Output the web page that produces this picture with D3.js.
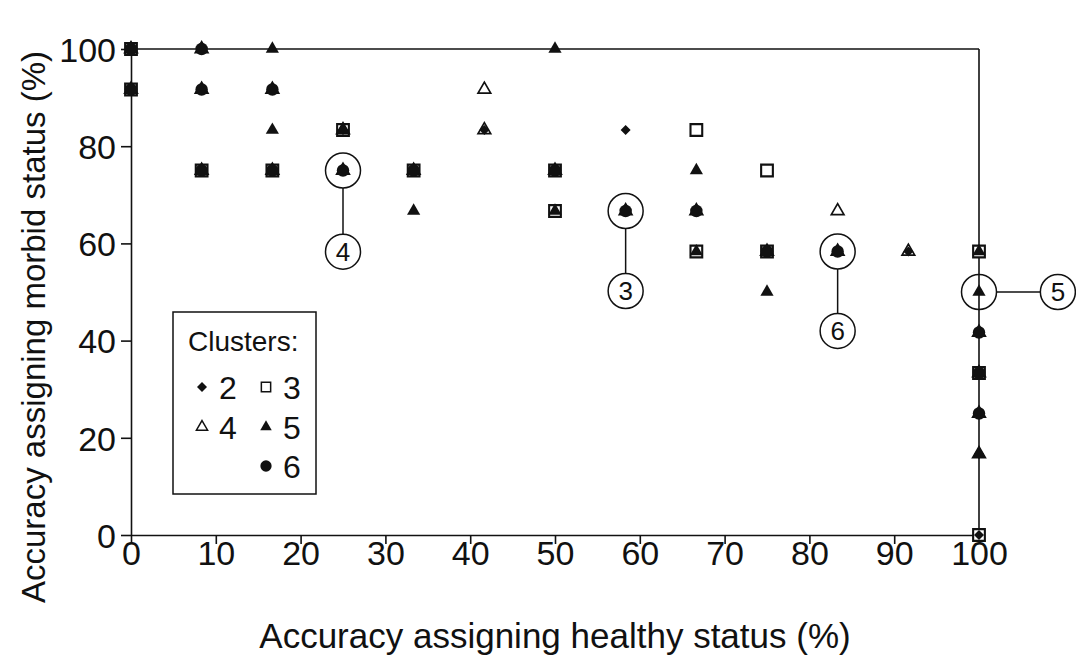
<!DOCTYPE html>
<html><head><meta charset="utf-8">
<script src="https://cdn.jsdelivr.net/npm/d3@7"></script>
<style>body{margin:0;background:#fff}svg{display:block;font-family:"Liberation Sans",Arial,sans-serif}</style>
</head><body><svg id="c" width="1076" height="661"></svg>
<script>
const xTicks = [0,10,20,30,40,50,60,70,80,90,100];
const yTicks = [0,20,40,60,80,100];
const xTitle = "Accuracy assigning healthy status (%)";
const yTitleParts = ["Accuracy assigning morbid status", "(%)"];
const legendTitle = "Clusters:";
const cluster2 = [[0,100],[0,91.67],[8.33,100],[8.33,91.67],[8.33,75],[16.67,91.67],[16.67,75],[25,83.33],[25,75],[33.33,75],[41.67,83.33],[50,75],[58.33,83.33],[58.33,66.67],[66.67,66.67],[75,58.33],[83.33,58.33],[91.67,58.33],[100,41.67],[100,33.33],[100,25],[100,16.67],[100,0]];
const cluster3 = [[0,100],[0,91.67],[8.33,75],[16.67,75],[25,83.33],[33.33,75],[50,75],[50,66.67],[66.67,83.33],[66.67,58.33],[75,75],[75,58.33],[100,58.33],[100,33.33],[100,0]];
const cluster4 = [[0,100],[0,91.67],[8.33,100],[8.33,91.67],[8.33,75],[16.67,91.67],[16.67,75],[25,83.33],[25,75],[33.33,75],[41.67,91.67],[41.67,83.33],[50,75],[58.33,66.67],[66.67,66.67],[75,58.33],[83.33,66.67],[83.33,58.33],[91.67,58.33],[100,41.67],[100,33.33],[100,25],[100,16.67]];
const cluster5 = [[0,100],[0,91.67],[8.33,100],[8.33,91.67],[8.33,75],[16.67,100],[16.67,91.67],[16.67,83.33],[16.67,75],[25,83.33],[25,75],[33.33,75],[33.33,66.67],[50,100],[50,75],[50,66.67],[58.33,66.67],[66.67,75],[66.67,66.67],[66.67,58.33],[75,58.33],[75,50],[83.33,58.33],[100,58.33],[100,50],[100,41.67],[100,33.33],[100,25],[100,16.67]];
const cluster6 = [[0,100],[0,91.67],[8.33,100],[8.33,91.67],[8.33,75],[16.67,91.67],[16.67,75],[25,75],[33.33,75],[50,75],[58.33,66.67],[66.67,66.67],[75,58.33],[83.33,58.33],[100,41.67],[100,33.33],[100,25]];
// callouts: label, circled point, label position (data units)
const calloutLabels = ["4","3","6","5"];
const calloutPoints = [[25,75],[58.33,66.67],[83.33,58.33],[100,50]];
const calloutLabelPos = [[25,58.3],[58.33,50.2],[83.33,42],[109.3,50]];

const svg = d3.select("#c");
const m = {l:131, r:979, t:49, b:535};
const x = d3.scaleLinear().domain([0,100]).range([m.l,m.r]);
const y = d3.scaleLinear().domain([0,100]).range([m.b,m.t]);
const ink = "#111";

// frame
svg.append("line").attr("x1",m.l).attr("x2",m.r).attr("y1",m.t).attr("y2",m.t).attr("stroke",ink).attr("stroke-width",1.6);
svg.append("line").attr("x1",m.r).attr("x2",m.r).attr("y1",m.t).attr("y2",m.b).attr("stroke",ink).attr("stroke-width",1.6);

const xa = svg.append("g").attr("transform",`translate(0,${m.b})`)
  .call(d3.axisBottom(x).tickValues(xTicks).tickSize(9).tickSizeOuter(0));
const ya = svg.append("g").attr("transform",`translate(${m.l},0)`)
  .call(d3.axisLeft(y).tickValues(yTicks).tickSize(10).tickSizeOuter(0).tickPadding(5));
[xa,ya].forEach(g=>{
  g.selectAll("path,line").attr("stroke",ink).attr("stroke-width",1.6);
  g.selectAll("text").attr("fill",ink).style("font-size","34px");
});
xa.selectAll("text").attr("y",30).attr("dy",0);
ya.selectAll("text").attr("dy","0.36em");

svg.append("text").attr("x",555).attr("y",648).attr("text-anchor","middle")
  .style("font-size","35px").attr("fill",ink).text(xTitle);

// y title, drawn as two runs along the same rotated baseline
const yt = svg.append("g").attr("transform","translate(45,327) rotate(-90)");
const t1 = yt.append("text").attr("x",0).attr("y",0).style("font-size","33px").attr("fill",ink).text(yTitleParts[0]);
const t2 = yt.append("text").attr("x",0).attr("y",0).style("font-size","33px").attr("fill",ink).text(yTitleParts[1]);
const w1 = t1.node().getComputedTextLength(), w2 = t2.node().getComputedTextLength();
const gap = 9.2, total = w1 + gap + w2;
t1.attr("x", -total/2);
t2.attr("x", -total/2 + w1 + gap);

// callouts
const R = 17.5;
calloutPoints.forEach((p,i)=>{
  const px=x(p[0]), py=y(p[1]);
  const lx=x(calloutLabelPos[i][0]), ly=y(calloutLabelPos[i][1]);
  const g = svg.append("g");
  const dx=lx-px, dy=ly-py, d=Math.hypot(dx,dy);
  g.append("line").attr("x1",px+dx/d*R).attr("y1",py+dy/d*R).attr("x2",lx-dx/d*R).attr("y2",ly-dy/d*R)
    .attr("stroke",ink).attr("stroke-width",1.5);
  g.append("circle").attr("cx",px).attr("cy",py).attr("r",R).attr("fill","none").attr("stroke",ink).attr("stroke-width",1.5);
  g.append("circle").attr("cx",lx).attr("cy",ly).attr("r",R).attr("fill","#fff").attr("stroke",ink).attr("stroke-width",1.5);
  g.append("text").attr("x",lx).attr("y",ly).attr("dy","0.36em").attr("text-anchor","middle")
    .style("font-size","26px").attr("fill",ink).text(calloutLabels[i]);
});

// marker shapes
const sym = {
  2: {type:d3.symbolDiamond2, size:64, fill:ink, stroke:"none", sw:0},
  3: {type:d3.symbolSquare2, size:175, fill:"#fff", stroke:ink, sw:2.1},
  4: {type:d3.symbolTriangle2, size:115, fill:"#fff", stroke:ink, sw:1.7},
  5: {type:d3.symbolTriangle2, size:125, fill:ink, stroke:"none", sw:0},
  6: {type:d3.symbolCircle, size:122, fill:ink, stroke:"none", sw:0}
};
const legSize = {2:64, 3:110, 4:90, 5:95, 6:100};
function drawSeries(data,k){
  const s=sym[k];
  svg.append("g").selectAll("path").data(data).join("path")
    .attr("d",d3.symbol().type(s.type).size(s.size))
    .attr("transform",d=>`translate(${x(d[0])},${y(d[1])})`)
    .attr("fill",s.fill).attr("stroke",s.stroke).attr("stroke-width",s.sw);
}
drawSeries(cluster3,3);
drawSeries(cluster4,4);
drawSeries(cluster2,2);
drawSeries(cluster5,5);
drawSeries(cluster6,6);

// legend
const lg = svg.append("g");
lg.append("rect").attr("x",173).attr("y",312).attr("width",143).attr("height",182)
  .attr("fill","#fff").attr("stroke",ink).attr("stroke-width",1.5);
lg.append("text").attr("x",188).attr("y",351).style("font-size","28px").attr("fill",ink).text(legendTitle);
const legItems = [[2,202,387],[3,266,387],[4,202,427],[5,266,427],[6,266,466]];
legItems.forEach(([k,lx,ly])=>{
  const s=sym[k];
  lg.append("path").attr("d",d3.symbol().type(s.type).size(legSize[k])).attr("transform",`translate(${lx},${ly})`)
    .attr("fill",s.fill).attr("stroke",s.stroke).attr("stroke-width",1.5);
  lg.append("text").attr("x",lx+17).attr("y",ly).attr("dy","0.36em").style("font-size","32px").attr("fill",ink).text(k);
});
</script></body></html>
